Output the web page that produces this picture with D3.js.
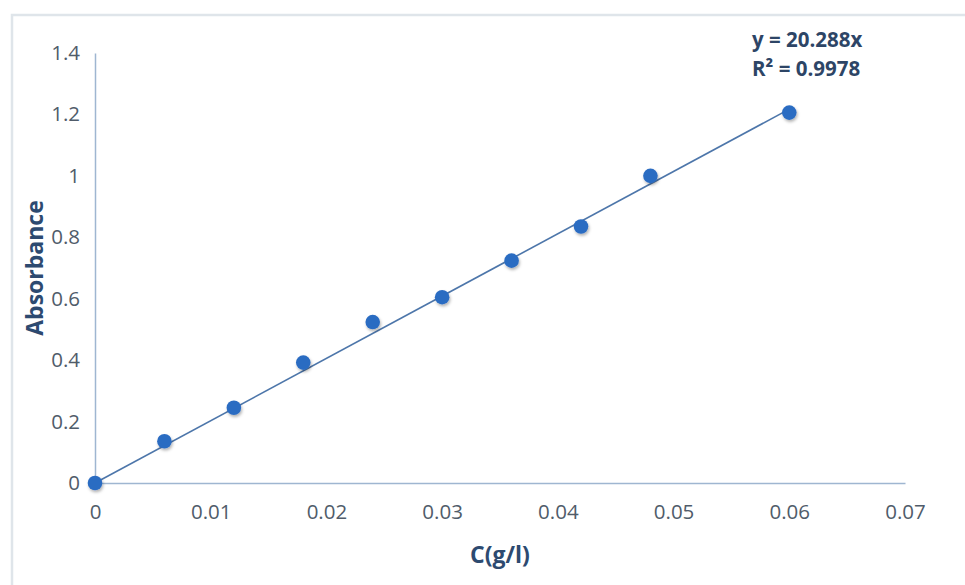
<!DOCTYPE html>
<html>
<head>
<meta charset="utf-8">
<script src="https://cdn.jsdelivr.net/npm/d3@7"></script>
<style>
  body { margin: 0; background: #fff; }
  text { font-family: "Open Sans", sans-serif; }
</style>
</head>
<body>
<div id="chart"></div>
<script>
// concentration (g/l) and measured absorbance
const conc = [0, 0.006, 0.012, 0.018, 0.024, 0.030, 0.036, 0.042, 0.048, 0.060];
const absorbance = [0, 0.136, 0.245, 0.392, 0.524, 0.605, 0.724, 0.835, 1.0, 1.206];
const xTicks = [0, 0.01, 0.02, 0.03, 0.04, 0.05, 0.06, 0.07];
const yTicks = [0, 0.2, 0.4, 0.6, 0.8, 1, 1.2, 1.4];
const slope = 20.288;
const equationLines = ["y = 20.288x", "R² = 0.9978"];

const width = 965, height = 585;

const svg = d3.select("#chart").append("svg")
    .attr("width", width)
    .attr("height", height);

// soft shadow under markers
const defs = svg.append("defs");
defs.append("filter")
    .attr("id", "shadow")
    .attr("x", "-50%").attr("y", "-50%")
    .attr("width", "200%").attr("height", "200%")
    .append("feDropShadow")
    .attr("dx", 1).attr("dy", 2)
    .attr("stdDeviation", 1.6)
    .attr("flood-color", "#000")
    .attr("flood-opacity", 0.3);

// chart frame
svg.append("rect")
    .attr("x", 12).attr("y", 15)
    .attr("width", width + 20).attr("height", height + 20)
    .attr("fill", "none")
    .attr("stroke", "#dfe5ea")
    .attr("stroke-width", 2.5);

const x = d3.scaleLinear().domain([0, 0.07]).range([95, 905]);
const y = d3.scaleLinear().domain([0, 1.4]).range([483, 53]);

const xAxis = svg.append("g")
    .attr("transform", `translate(0,${y(0)})`)
    .call(d3.axisBottom(x).tickValues(xTicks).tickSize(0).tickPadding(21).tickFormat(d3.format("~g")));

const yAxis = svg.append("g")
    .attr("transform", `translate(${x(0)},0)`)
    .call(d3.axisLeft(y).tickValues(yTicks).tickSize(0).tickPadding(15).tickFormat(d3.format("~g")));

[xAxis, yAxis].forEach(g => {
    g.select(".domain").attr("stroke", "#9fb6d1").attr("stroke-width", 1.5);
    g.selectAll("text")
        .attr("font-size", 20.5)
        .attr("fill", "#505c6a");
});

// trendline through origin
svg.append("line")
    .attr("x1", x(0)).attr("y1", y(0))
    .attr("x2", x(d3.max(conc))).attr("y2", y(slope * d3.max(conc)))
    .attr("stroke", "#4d76aa")
    .attr("stroke-width", 1.6);

svg.append("g")
    .selectAll("circle")
    .data(conc)
    .enter().append("circle")
    .attr("cx", d => x(d))
    .attr("cy", (d, i) => y(absorbance[i]))
    .attr("r", 7.3)
    .attr("fill", "#2c6cc2")
    .attr("filter", "url(#shadow)");

// axis titles
svg.append("text")
    .attr("transform", `translate(43,${(y(0) + y(1.4)) / 2})rotate(-90)`)
    .attr("text-anchor", "middle")
    .attr("font-size", 23)
    .attr("font-weight", "bold")
    .attr("fill", "#2d4a70")
    .text("Absorbance");

svg.append("text")
    .attr("x", 500)
    .attr("y", 563)
    .attr("text-anchor", "middle")
    .attr("font-size", 23)
    .attr("font-weight", "bold")
    .attr("fill", "#2d4a70")
    .text("C(g/l)");

// regression label
svg.append("g")
    .selectAll("text")
    .data(equationLines)
    .enter().append("text")
    .attr("x", 752)
    .attr("y", (d, i) => 47 + i * 29)
    .attr("font-size", 20.5)
    .attr("font-weight", "bold")
    .attr("fill", "#2d4566")
    .text(d => d);
</script>
</body>
</html>
